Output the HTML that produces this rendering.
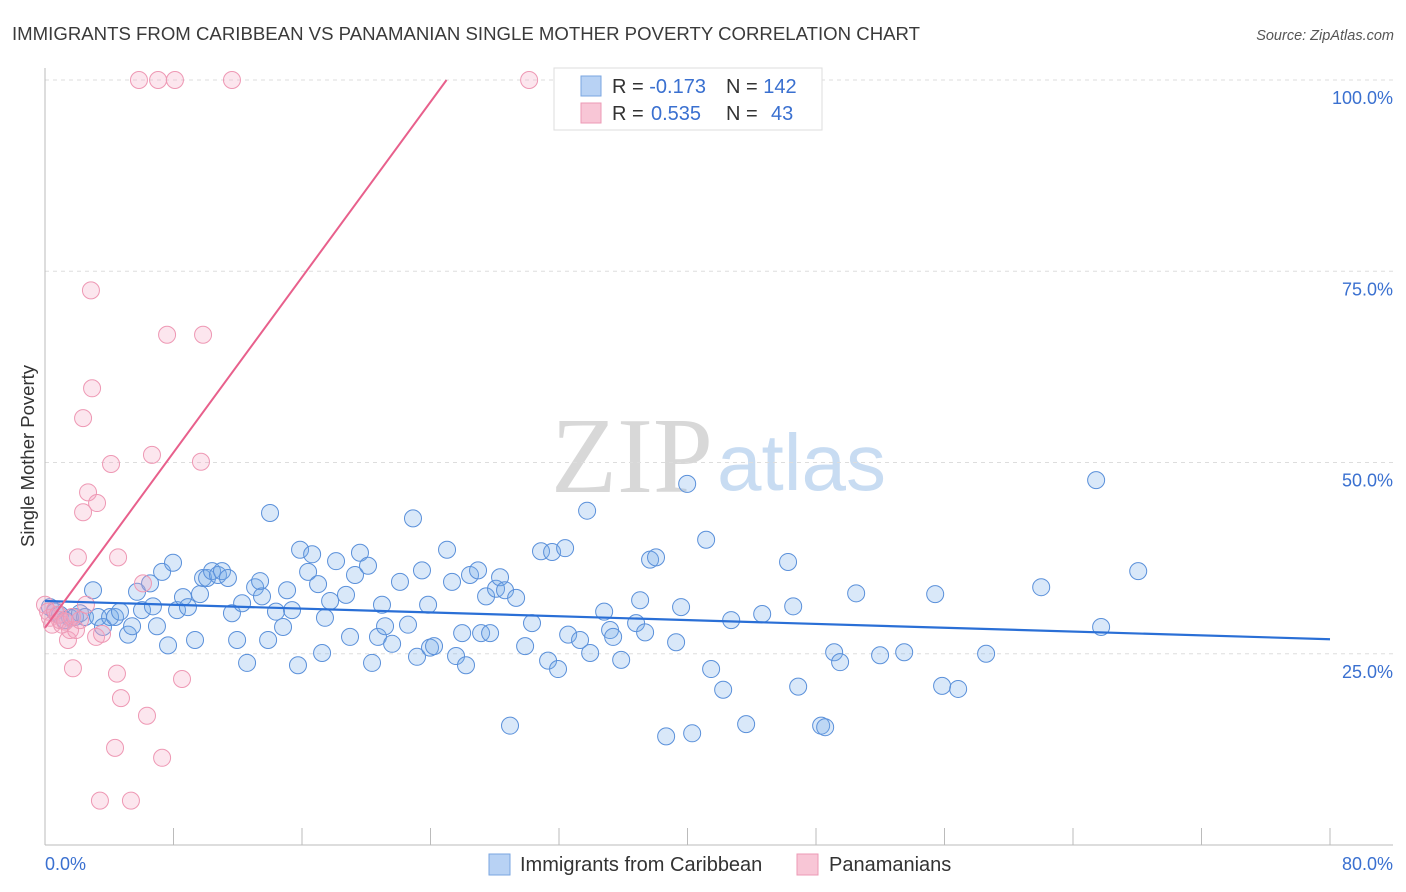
<!DOCTYPE html>
<html><head><meta charset="utf-8">
<style>
body{margin:0;background:#fff;font-family:"Liberation Sans",sans-serif;}
#wrap{position:relative;width:1406px;height:892px;overflow:hidden;}
</style></head>
<body>
<div id="wrap">
<svg id="chart" width="1406" height="892" xmlns="http://www.w3.org/2000/svg">
<text x="12" y="40" font-size="18.6" fill="#3a3a3a" textLength="908">IMMIGRANTS FROM CARIBBEAN VS PANAMANIAN SINGLE MOTHER POVERTY CORRELATION CHART</text>
<text x="1394" y="40" font-size="14.5" fill="#555" font-style="italic" text-anchor="end">Source: ZipAtlas.com</text>
<text x="713" y="492" font-size="108" font-family="Liberation Serif,serif" fill="#d8d8d8" text-anchor="end">ZIP</text>
<text x="717" y="490" font-size="80" fill="#c8dcf2">atlas</text>
<text transform="translate(34,456) rotate(-90)" font-size="18.5" fill="#333" text-anchor="middle">Single Mother Poverty</text>
<g id="grid"></g>
<g id="pts"></g>
<g id="lines"></g>
<g>
<rect x="554" y="68" width="268" height="62" fill="#fff" stroke="#ddd"/>
<rect x="581" y="76" width="20" height="20" fill="#b8d2f4" stroke="#7aa6e0"/>
<rect x="581" y="103" width="20" height="20" fill="#f8c6d6" stroke="#ec9ab5"/>
<text x="612" y="93" font-size="20" fill="#333">R = <tspan fill="#3a70d0">-0.173</tspan><tspan x="726">N = </tspan><tspan fill="#3a70d0">142</tspan></text>
<text x="612" y="120" font-size="20" fill="#333">R = <tspan x="651" fill="#3a70d0">0.535</tspan><tspan x="726">N = </tspan><tspan x="771" fill="#3a70d0">43</tspan></text>
</g>
<g>
<rect x="489" y="854" width="21" height="21" fill="#b8d2f4" stroke="#7aa6e0"/>
<text x="520" y="871" font-size="20" fill="#333">Immigrants from Caribbean</text>
<rect x="797" y="854" width="21" height="21" fill="#f8c6d6" stroke="#ec9ab5"/>
<text x="829" y="871" font-size="20" fill="#333">Panamanians</text>
</g>
<text x="45" y="870" font-size="18" fill="#3a70d0">0.0%</text>
<text x="1393" y="870" font-size="18" fill="#3a70d0" text-anchor="end">80.0%</text>
</svg>
</div>
<script>
const yTicks=[100,75,50,25];
const yTickLabels=["100.0%","75.0%","50.0%","25.0%"];
const xTicks=[0,8,16,24,32,40,48,56,64,72,80];
const caribX=[0.31,0.62,0.93,1.25,1.56,1.87,2.18,2.49,2.99,3.30,3.61,4.05,4.36,4.67,5.17,5.42,5.73,6.04,6.54,6.72,6.97,7.29,7.66,7.97,8.22,8.59,8.90,9.34,9.65,9.84,10.09,10.40,10.77,11.02,11.39,11.64,11.96,12.27,12.58,13.08,13.39,13.51,13.89,14.01,14.38,14.82,15.07,15.38,15.75,15.88,16.38,16.63,17.00,17.25,17.43,17.75,18.12,18.74,18.99,19.30,19.61,20.11,20.36,20.73,20.98,21.17,21.61,22.10,22.60,22.91,23.16,23.47,23.85,23.97,24.22,25.03,25.34,25.59,25.97,26.21,26.46,26.96,27.15,27.46,27.71,28.08,28.33,28.64,28.95,29.33,29.89,30.32,30.88,31.32,31.57,31.94,32.38,32.57,33.31,33.75,33.94,34.81,35.18,35.37,35.87,36.80,37.05,37.36,37.67,38.04,38.67,39.29,39.60,39.98,40.29,41.16,41.47,42.22,42.72,43.65,44.65,46.26,46.58,46.89,48.32,48.57,49.13,49.50,50.50,51.99,53.49,55.42,55.85,56.85,58.59,62.02,65.44,65.75,68.06];
const caribY=[31.1,30.5,30.1,29.4,29.7,29.8,30.3,29.8,33.3,29.8,28.5,29.8,29.8,30.5,27.5,28.6,33.1,30.7,34.2,31.2,28.6,35.7,26.1,36.9,30.7,32.4,31.1,26.8,32.8,34.9,34.9,35.8,35.3,35.8,34.9,30.3,26.8,31.6,23.8,33.7,34.5,32.5,26.8,43.4,30.5,28.5,33.3,30.7,23.5,38.6,35.7,38.0,34.1,25.1,29.7,31.9,37.1,32.7,27.2,35.3,38.2,36.5,23.8,27.2,31.4,28.6,26.3,34.4,28.8,42.7,24.6,35.9,31.4,25.8,26.0,38.6,34.4,24.7,27.7,23.5,35.3,35.9,27.7,32.5,27.7,33.5,35.0,33.3,15.6,32.3,26.0,29.0,38.4,24.1,38.3,23.0,38.8,27.5,26.8,43.7,25.1,30.5,28.1,27.2,24.2,29.0,32.0,27.8,37.3,37.6,14.2,26.5,31.1,47.2,14.6,39.9,23.0,20.3,29.4,15.8,30.2,37.0,31.2,20.7,15.6,15.4,25.2,23.9,32.9,24.8,25.2,32.8,20.8,20.4,25.0,33.7,47.7,28.5,35.8];
const panX=[0,0.19,0.31,0.44,0.62,0.81,0.93,1.06,1.25,1.43,1.56,1.68,1.74,1.93,2.05,2.18,2.37,2.37,2.55,2.68,2.86,2.93,3.18,3.24,3.42,3.55,4.11,4.48,4.55,4.73,4.36,5.35,5.85,6.10,6.35,6.66,7.04,7.29,7.60,8.09,8.53,9.71,9.84,11.64,30.14];
const panY=[31.4,30.5,29.7,28.8,30.7,30.1,29.4,28.8,29.2,26.8,28.1,29.8,23.1,28.1,37.6,29.4,43.5,55.8,31.4,46.1,72.5,59.7,27.2,44.7,5.8,27.6,49.8,22.4,37.6,19.2,12.7,5.8,100,34.2,16.9,51.0,100,11.4,66.7,100,21.7,50.1,66.7,100,100];
const caribTrend=[31.9,26.9];
const panTrend=[28.4,2.864];

const X0=45,X1=1330,Y0=845,Y100=80;
const sx=v=>X0+(X1-X0)*v/80;
const sy=v=>Y0-(Y0-Y100)*v/100;
const NS="http://www.w3.org/2000/svg";
function mk(t,a,p){const e=document.createElementNS(NS,t);for(const k in a)e.setAttribute(k,a[k]);p.appendChild(e);return e;}
const grid=document.getElementById('grid');
yTicks.forEach((v,i)=>{
  const l=mk('line',{x1:X0,x2:1393,y1:sy(v),y2:sy(v),stroke:'#ddd','stroke-dasharray':'4,4'},grid);
  
  
  const t=mk('text',{x:1393,y:sy(v)+24,'font-size':18,fill:'#3a70d0','text-anchor':'end'},grid);
  t.textContent=yTickLabels[i];
  
  
});
const ax=mk('line',{x1:X0,x2:X0,y1:68,y2:Y0,stroke:'#bbb'},grid);


const bx=mk('line',{x1:X0,x2:1393,y1:Y0,y2:Y0,stroke:'#bbb'},grid);


xTicks.forEach(v=>{
  const t=mk('line',{x1:sx(v),x2:sx(v),y1:828,y2:Y0,stroke:'#bbb'},grid);
  
  
});
const pts=document.getElementById('pts');
caribX.forEach((x,i)=>{
  const c=mk('circle',{cx:sx(x),cy:sy(caribY[i]),r:8.5,fill:'rgba(120,172,232,0.28)',stroke:'#5a90da','stroke-width':1},pts);
  
  
});
panX.forEach((x,i)=>{
  const c=mk('circle',{cx:sx(x),cy:sy(panY[i]),r:8.5,fill:'rgba(245,165,195,0.28)',stroke:'#ee98b4','stroke-width':1},pts);
  
  
});
const lines=document.getElementById('lines');
const bl=mk('line',{x1:sx(0),y1:sy(caribTrend[0]),x2:sx(80),y2:sy(caribTrend[1]),stroke:'#2a6fd6','stroke-width':2.2},lines);


const xEnd=(100-panTrend[0])/panTrend[1];
const pl=mk('line',{x1:sx(0),y1:sy(panTrend[0]),x2:sx(xEnd),y2:sy(100),stroke:'#e8608c','stroke-width':2},lines);


</script>
</body></html>
